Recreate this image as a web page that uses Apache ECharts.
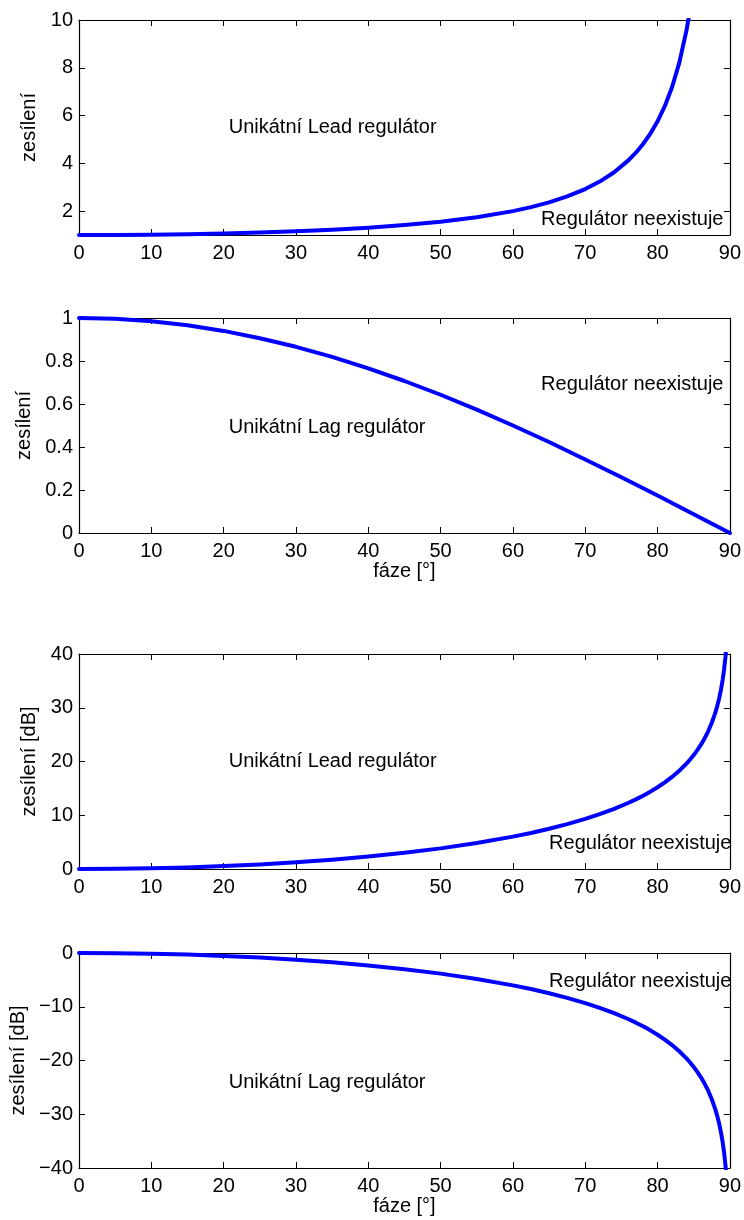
<!DOCTYPE html>
<html>
<head>
<meta charset="utf-8">
<script src="https://cdn.jsdelivr.net/npm/echarts@6/dist/echarts.min.js"></script>
<style>
  html, body { margin: 0; padding: 0; background: #fff; }
  #chart { width: 744px; height: 1220px; }
</style>
</head>
<body>
<div id="chart"></div>
<script>
// Phase angle [deg] at which the lead curves and the dB curves are sampled
const phase = [0, 5, 10, 15, 20, 25, 30, 35, 40, 45, 50, 55, 60, 62.5, 65, 67.5, 70, 72, 74, 76, 77, 78, 79, 80, 81, 82, 83, 84, 84.5, 85, 85.5, 86, 86.5, 87, 87.5, 88, 88.25, 88.5, 88.75, 89, 89.2, 89.4, 89.6, 89.8];

// Lead compensator gain (linear)
const leadGain = [1.000, 1.004, 1.015, 1.035, 1.064, 1.103, 1.155, 1.221, 1.305, 1.414, 1.556, 1.743, 2.000, 2.166, 2.366, 2.613, 2.924, 3.236, 3.628, 4.134, 4.445, 4.810, 5.241, 5.759, 6.393, 7.185, 8.206, 9.567, 10.43, 11.47, 12.75, 14.34, 16.38, 19.11, 22.93, 28.65, 32.75, 38.20, 45.84, 57.30, 71.62, 95.50, 143.2, 286.5];

// Lag compensator gain (linear)
const lagPhase = [0, 5, 10, 15, 20, 25, 30, 35, 40, 45, 50, 55, 60, 65, 70, 75, 80, 85, 90];
const lagGain = [1.000, 0.996, 0.985, 0.966, 0.940, 0.906, 0.866, 0.819, 0.766, 0.707, 0.643, 0.574, 0.500, 0.423, 0.342, 0.259, 0.174, 0.087, 0.000];

// Lead compensator gain [dB]
const leadDb = [0.00, 0.03, 0.13, 0.30, 0.54, 0.86, 1.25, 1.73, 2.32, 3.01, 3.84, 4.83, 6.02, 6.71, 7.48, 8.34, 9.32, 10.20, 11.19, 12.33, 12.96, 13.64, 14.39, 15.21, 16.11, 17.13, 18.28, 19.62, 20.37, 21.19, 22.11, 23.13, 24.29, 25.62, 27.21, 29.14, 30.30, 31.64, 33.23, 35.16, 37.10, 39.60, 43.12, 49.14];

// Lag compensator gain [dB]
const lagDb = [0.00, -0.03, -0.13, -0.30, -0.54, -0.86, -1.25, -1.73, -2.32, -3.01, -3.84, -4.83, -6.02, -6.71, -7.48, -8.34, -9.32, -10.20, -11.19, -12.33, -12.96, -13.64, -14.39, -15.21, -16.11, -17.13, -18.28, -19.62, -20.37, -21.19, -22.11, -23.13, -24.29, -25.62, -27.21, -29.14, -30.30, -31.64, -33.23, -35.16, -37.10, -39.60, -43.12, -49.14];

// Tick labels
const xTicks = [0, 10, 20, 30, 40, 50, 60, 70, 80, 90];
const yTicksLead = [2, 4, 6, 8, 10];
const yTicksLag = [0, 0.2, 0.4, 0.6, 0.8, 1];
const yTicksLeadDb = [0, 10, 20, 30, 40];
const yTicksLagDb = [-40, -30, -20, -10, 0];

// Text notes in each panel: [panel, phase, value, text]
const notes = [
  [0, 20.7, 5.5, 'Unikátní Lead regulátor'],
  [0, 63.9, 1.65, 'Regulátor neexistuje'],
  [1, 63.9, 0.69, 'Regulátor neexistuje'],
  [1, 20.7, 0.49, 'Unikátní Lag regulátor'],
  [2, 20.7, 20, 'Unikátní Lead regulátor'],
  [2, 65.0, 4.8, 'Regulátor neexistuje'],
  [3, 65.0, -5.3, 'Regulátor neexistuje'],
  [3, 20.7, -24, 'Unikátní Lag regulátor']
];

const FONT = "'Liberation Sans', Arial, Helvetica, sans-serif";
const FS = 20;
const minus = v => String(v).replace('-', '\u2212');

const panels = [
  { top: 20, yMin: 1, yMax: 10, yTicks: yTicksLead, yName: 'zesílení', nameGap: 37, xName: '', x: phase, y: leadGain },
  { top: 318, yMin: 0, yMax: 1, yTicks: yTicksLag, yName: 'zesílení', nameGap: 42, xName: 'fáze [°]', x: lagPhase, y: lagGain },
  { top: 654, yMin: 0, yMax: 40, yTicks: yTicksLeadDb, yName: 'zesílení [dB]', nameGap: 37, xName: '', x: phase, y: leadDb },
  { top: 953, yMin: -40, yMax: 0, yTicks: yTicksLagDb, yName: 'zesílení [dB]', nameGap: 44, xName: 'fáze [°]', x: phase, y: lagDb }
];

const grid = [], xAxis = [], yAxis = [], series = [];
const lineStyle = { color: '#000', width: 1.2 };
const tickStyle = { show: true, inside: true, length: 6, lineStyle: { color: '#000', width: 1 } };

panels.forEach((p, i) => {
  grid.push({ left: 79, width: 652, top: p.top, height: 215 });
  // bottom x axis with labels
  xAxis.push({
    gridIndex: i, type: 'value', position: 'bottom', min: 0, max: 90,
    axisLine: { show: true, onZero: false, lineStyle },
    axisTick: Object.assign({ customValues: xTicks }, tickStyle),
    axisLabel: { customValues: xTicks, color: '#000', fontSize: FS, fontFamily: FONT, margin: 8 },
    splitLine: { show: false },
    name: p.xName, nameLocation: 'middle', nameGap: 28,
    nameTextStyle: { color: '#000', fontSize: FS, fontFamily: FONT }
  });
  // top x axis: box edge with ticks
  xAxis.push({
    gridIndex: i, type: 'value', position: 'top', min: 0, max: 90,
    axisLine: { show: true, onZero: false, lineStyle },
    axisTick: Object.assign({ customValues: xTicks }, tickStyle),
    axisLabel: { show: false },
    splitLine: { show: false }
  });
  // left y axis with labels
  yAxis.push({
    gridIndex: i, type: 'value', position: 'left', min: p.yMin, max: p.yMax,
    axisLine: { show: true, onZero: false, lineStyle },
    axisTick: Object.assign({ customValues: p.yTicks }, tickStyle),
    axisLabel: { customValues: p.yTicks, color: '#000', fontSize: FS, fontFamily: FONT, margin: 6, formatter: minus },
    splitLine: { show: false },
    name: p.yName, nameLocation: 'middle', nameGap: p.nameGap, nameRotate: 90,
    nameTextStyle: { color: '#000', fontSize: FS, fontFamily: FONT }
  });
  // right y axis: box edge with ticks
  yAxis.push({
    gridIndex: i, type: 'value', position: 'right', min: p.yMin, max: p.yMax,
    axisLine: { show: true, onZero: false, lineStyle },
    axisTick: Object.assign({ customValues: p.yTicks }, tickStyle),
    axisLabel: { show: false },
    splitLine: { show: false }
  });

  series.push({
    type: 'line', xAxisIndex: 2 * i, yAxisIndex: 2 * i,
    data: p.x.map((v, k) => [v, p.y[k]]),
    showSymbol: false, smooth: false, clip: true,
    lineStyle: { color: '#0000ff', width: 4, join: 'round', cap: 'round' },
    silent: true, z: 3
  });

  series.push({
    type: 'scatter', xAxisIndex: 2 * i, yAxisIndex: 2 * i,
    symbolSize: 0, silent: true,
    itemStyle: { opacity: 1 },
    data: notes.filter(n => n[0] === i).map(n => ({ value: [n[1], n[2]], name: n[3] })),
    label: {
      show: true, position: 'right', distance: 0, formatter: d => d.name,
      color: '#000', opacity: 1, textBorderWidth: 0, fontSize: FS, fontFamily: FONT
    },
    z: 4
  });
});

const chart = echarts.init(document.getElementById('chart'), null, { renderer: 'canvas' });
chart.setOption({
  backgroundColor: '#fff',
  animation: false,
  grid, xAxis, yAxis, series
});
</script>
</body>
</html>
